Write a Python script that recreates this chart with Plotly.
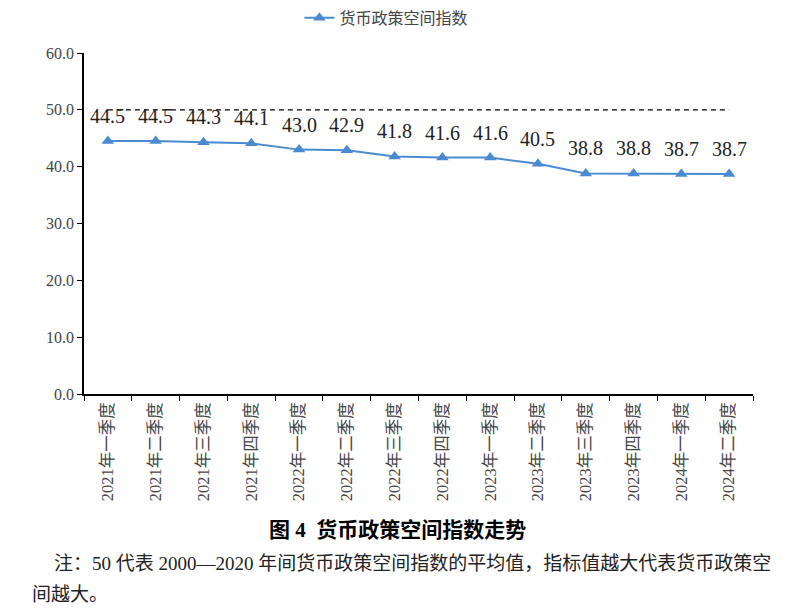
import plotly.graph_objects as go

quarters = ['2021年一季度', '2021年二季度', '2021年三季度', '2021年四季度',
            '2022年一季度', '2022年二季度', '2022年三季度', '2022年四季度',
            '2023年一季度', '2023年二季度', '2023年三季度', '2023年四季度',
            '2024年一季度', '2024年二季度']
index_values = [44.5, 44.5, 44.3, 44.1, 43.0, 42.9, 41.8, 41.6, 41.6, 40.5, 38.8, 38.8, 38.7, 38.7]
baseline = [50] * len(quarters)
y_ticks = [0, 10, 20, 30, 40, 50, 60]

FONT = 'Liberation Serif, Times New Roman, Noto Sans CJK SC, serif'
BLUE = '#4a8ad0'

fig = go.Figure()

# 50 = 2000-2020 average, drawn as dashed reference
fig.add_trace(go.Scatter(x=quarters, y=baseline, mode='lines',
                         line=dict(color='black', width=1.3, dash='5px,4px'),
                         showlegend=False, hoverinfo='skip'))

fig.add_trace(go.Scatter(x=quarters, y=index_values, mode='lines+markers',
                         name='货币政策空间指数',
                         line=dict(color=BLUE, width=2),
                         marker=dict(symbol='triangle-up', size=11, color=BLUE)))

for q, v in zip(quarters, index_values):
    fig.add_annotation(x=q, y=v, text=f'{v:.1f}', showarrow=False,
                       yshift=25, font=dict(family=FONT, size=20, color='#222'))

fig.add_annotation(xref='paper', yref='paper', x=0.468, y=-0.399, yanchor='middle',
                   showarrow=False, text='<b>图 4  货币政策空间指数走势</b>',
                   font=dict(family=FONT, size=21, color='black'))
fig.add_annotation(xref='paper', yref='paper', x=-0.048, y=-0.496, xanchor='left',
                   yanchor='middle', showarrow=False, align='left',
                   text='注：50 代表 2000—2020 年间货币政策空间指数的平均值，指标值越大代表货币政策空',
                   font=dict(family=FONT, size=19, color='#222'))
fig.add_annotation(xref='paper', yref='paper', x=-0.081, y=-0.587, xanchor='left',
                   yanchor='middle', showarrow=False, align='left', text='间越大。',
                   font=dict(family=FONT, size=19, color='#222'))

# page body has an 8px default margin, so offsets are compensated here
fig.update_layout(
    width=790, height=615,
    margin=dict(l=76, r=45, t=45, b=229, autoexpand=False),
    paper_bgcolor='white', plot_bgcolor='white',
    font=dict(family=FONT, color='#333'),
    legend=dict(orientation='h', x=0.452, xanchor='center', y=1.103, yanchor='middle',
                font=dict(size=16, color='#444')),
    xaxis=dict(type='category', showline=True, linecolor='black', linewidth=1.5,
               ticks='outside', tickson='boundaries', ticklen=5, tickcolor='black',
               tickangle=-90, tickfont=dict(size=16.5, color='#444'),
               showgrid=False, range=[-0.5, len(quarters) - 0.5]),
    yaxis=dict(range=[0, 60], tickvals=y_ticks, tickformat='.1f',
               showline=True, linecolor='black', linewidth=1.5,
               ticks='outside', ticklen=5, tickcolor='black',
               tickfont=dict(size=16, color='#444'), showgrid=False, zeroline=False),
)

fig.write_html("out.html")
